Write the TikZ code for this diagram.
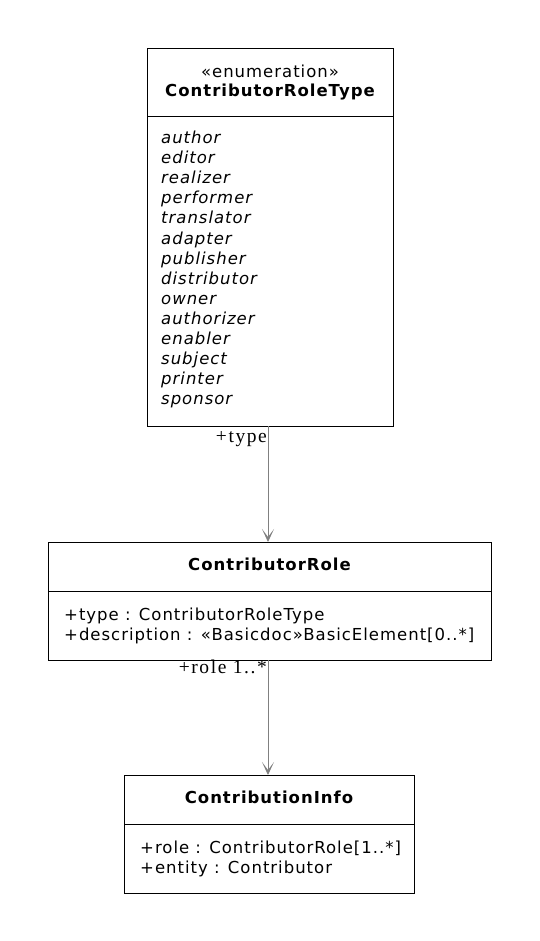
\documentclass[tikz,border=0pt]{standalone}
\usepackage{fontspec}
\setmainfont{DejaVu Sans}[LetterSpace=6]
\newfontfamily\lblfont{Liberation Serif}[LetterSpace=8]
\usetikzlibrary{arrows.meta}
\definecolor{conngray}{HTML}{808080}
\tikzset{
  umlbox/.style={draw=black, line width=0.8pt, rectangle, inner sep=0pt, anchor=north west},
  txt/.style={anchor=base west, inner sep=0pt, font=\fontsize{16.5}{20}\selectfont},
  ttl/.style={anchor=base, inner sep=0pt, font=\fontsize{16.5}{20}\selectfont\bfseries},
  lit/.style={anchor=base west, inner sep=0pt, font=\fontsize{16.5}{20}\selectfont\itshape},
  lbl/.style={anchor=base east, inner sep=0pt, font=\lblfont\fontsize{19.5}{20}\selectfont},
  conn/.style={draw=conngray, line width=0.9pt, -{Stealth[length=13pt,width=12pt,inset=8pt]}},
}
\begin{document}
\begin{tikzpicture}[x=1pt,y=-1pt]
\useasboundingbox (0,0) rectangle (539,941);
% ContributorRoleType
\node[umlbox, minimum width=246pt, minimum height=378pt] (enum) at (147,48) {};
\draw[line width=0.8pt] (147,116) -- (393,116);
\node[anchor=base, inner sep=0pt, font=\fontsize{16.5}{20}\selectfont] (enumst) at (270,78) {«enumeration»};
\node[ttl] (enumname) at (270,97) {ContributorRoleType};
\node[lit] (l1) at (161,144) {author};
\node[lit] (l2) at (161,164) {editor};
\node[lit] (l3) at (161,184) {realizer};
\node[lit] (l4) at (161,204) {performer};
\node[lit] (l5) at (161,224) {translator};
\node[lit] (l6) at (161,244) {adapter};
\node[lit] (l7) at (161,264) {publisher};
\node[lit] (l8) at (161,284) {distributor};
\node[lit] (l9) at (161,304) {owner};
\node[lit] (l10) at (161,324) {authorizer};
\node[lit] (l11) at (161,344) {enabler};
\node[lit] (l12) at (161,364) {subject};
\node[lit] (l13) at (161,384) {printer};
\node[lit] (l14) at (161,404) {sponsor};
% ContributorRole
\node[umlbox, minimum width=443pt, minimum height=118pt] (role) at (48,542) {};
\draw[line width=0.8pt] (48,591) -- (491,591);
\node[ttl] (rolename) at (269.5,570) {ContributorRole};
\node[txt] (r1) at (64,620) {+type : ContributorRoleType};
\node[txt] (r2) at (64,640) {+description : «Basicdoc»BasicElement[0..*]};
% ContributionInfo
\node[umlbox, minimum width=290pt, minimum height=118pt] (info) at (124,775) {};
\draw[line width=0.8pt] (124,824) -- (414,824);
\node[ttl] (infoname) at (269,803) {ContributionInfo};
\node[txt] (i1) at (140,853) {+role : ContributorRole[1..*]};
\node[txt] (i2) at (140,873) {+entity : Contributor};
% connectors
\coordinate (a1s) at (268,426);
\coordinate (a1e) at (268,542);
\coordinate (a2s) at (268,660);
\coordinate (a2e) at (268,775);
\draw[conn] (a1s) -- (a1e);
\draw[conn] (a2s) -- (a2e);
\node[lbl] (lt) at (267,442) {+type};
\node[lbl] (lr) at (267,673) {+role 1..*};
\end{tikzpicture}
\end{document}
